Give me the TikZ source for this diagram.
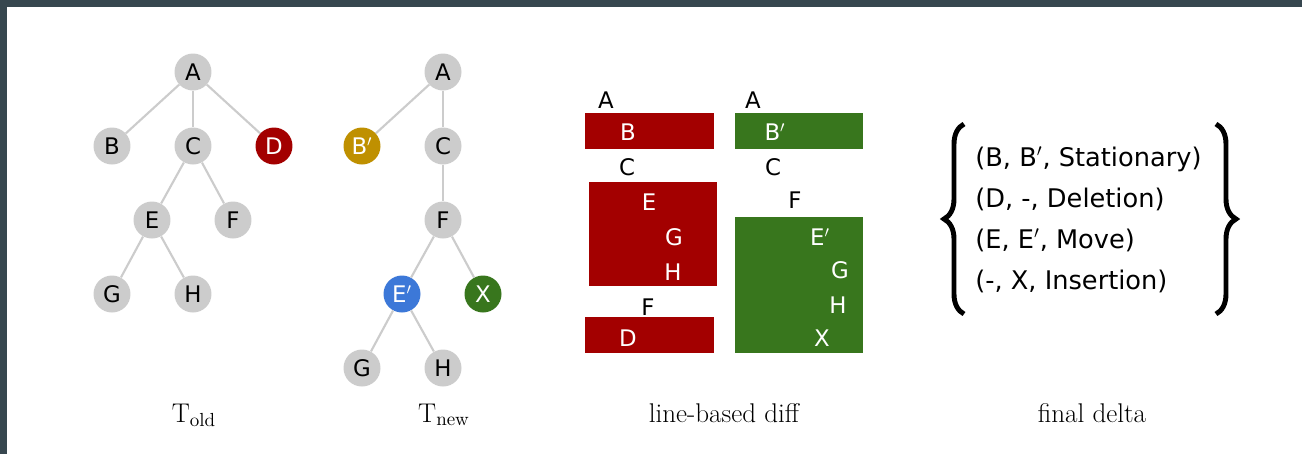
\documentclass[tikz,border=0pt]{standalone}
\usepackage{fontspec}
\newfontfamily\labelfont{DejaVu Sans}
\usepackage{tikz}
\usetikzlibrary{positioning,calc,decorations.pathreplacing}
\definecolor{framegrey}{HTML}{37474F}
\definecolor{nodegrey}{HTML}{CCCCCC}
\definecolor{delred}{HTML}{A30000}
\definecolor{statgold}{HTML}{BF9000}
\definecolor{moveblue}{HTML}{3C78D8}
\definecolor{insgreen}{HTML}{38761D}
\tikzset{
  tnode/.style={circle,fill=nodegrey,minimum size=0.74cm,inner sep=0pt,
    font=\labelfont\fontsize{13}{15}\selectfont},
  cnode/.style={tnode,fill=#1,text=white},
  tedge/.style={draw=nodegrey,line width=1.2pt},
  dlabel/.style={inner sep=0pt,font=\labelfont\fontsize{13}{15}\selectfont},
  dtext/.style={dlabel,text=white},
  tuple/.style={anchor=base west,inner sep=0pt,font=\labelfont\fontsize{14.6}{17}\selectfont},
  caption/.style={anchor=base,inner sep=0pt,font=\fontsize{15.4}{18}\selectfont},
  bigbrace/.style={decorate,decoration={brace,amplitude=0.4cm},line width=2.8pt}
}
\begin{document}
\begin{tikzpicture}[x=0.02cm,y=-0.02cm]
\useasboundingbox (0,0) rectangle (1302,454);
\fill[framegrey] (0,0) rectangle (1302,454);
\fill[white] (7,7) rectangle (1302,454);

% T old
\node[tnode] (oA) at (193,72) {A};
\node[tnode] (oB) at (112,146) {B};
\node[tnode] (oC) at (193,146) {C};
\node[cnode=delred] (oD) at (274,146) {D};
\node[tnode] (oE) at (152,220) {E};
\node[tnode] (oF) at (233,220) {F};
\node[tnode] (oG) at (112,294) {G};
\node[tnode] (oH) at (193,294) {H};
\foreach \a/\b in {oA/oB,oA/oC,oA/oD,oC/oE,oC/oF,oE/oG,oE/oH}
  \draw[tedge] (\a) -- (\b);

% T new
\node[tnode] (nA) at (443,72) {A};
\node[cnode=statgold] (nB) at (362,146) {B$'$};
\node[tnode] (nC) at (443,146) {C};
\node[tnode] (nF) at (443,220) {F};
\node[cnode=moveblue] (nE) at (402,294) {E$'$};
\node[cnode=insgreen] (nX) at (483,294) {X};
\node[tnode] (nG) at (362,368) {G};
\node[tnode] (nH) at (443,368) {H};
\foreach \a/\b in {nA/nB,nA/nC,nC/nF,nF/nE,nF/nX,nE/nG,nE/nH}
  \draw[tedge] (\a) -- (\b);

% line-based diff
\fill[delred] (585,113) rectangle (714,149);
\fill[delred] (589,182) rectangle (717,286);
\fill[delred] (585,317) rectangle (714,353);
\fill[insgreen] (735,113) rectangle (863,149);
\fill[insgreen] (735,217) rectangle (863,353);
\node[dlabel] (lA) at (606,100) {A};
\node[dtext] (lB) at (628,132) {B};
\node[dlabel] (lC) at (627,167) {C};
\node[dtext] (lE) at (649,202) {E};
\node[dtext] (lG) at (674,237) {G};
\node[dtext] (lH) at (673,272) {H};
\node[dlabel] (lF) at (648,307) {F};
\node[dtext] (lD) at (628,338) {D};
\node[dlabel] (rA) at (753,100) {A};
\node[dtext] (rB) at (775,132) {B$'$};
\node[dlabel] (rC) at (773,167) {C};
\node[dlabel] (rF) at (795,200) {F};
\node[dtext] (rE) at (820,237) {E$'$};
\node[dtext] (rG) at (840,270) {G};
\node[dtext] (rH) at (838,305) {H};
\node[dtext] (rX) at (822,338) {X};

% final delta
\node[tuple] (d1) at (975,166) {(B, B$'$, Stationary)};
\node[tuple] (d2) at (975,207) {(D, -, Deletion)};
\node[tuple] (d3) at (975,248) {(E, E$'$, Move)};
\node[tuple] (d4) at (975,289) {(-, X, Insertion)};
\coordinate (lbTop) at (964,124);
\coordinate (lbBot) at (964,314);
\coordinate (rbTop) at (1216,124);
\coordinate (rbBot) at (1216,314);
\draw[bigbrace] (lbBot) -- (lbTop);
\draw[bigbrace] (rbTop) -- (rbBot);

% captions
\node[caption] (cOld) at (194,422) {T$_{\mathrm{old}}$};
\node[caption] (cNew) at (444,422) {T$_{\mathrm{new}}$};
\node[caption] (cDiff) at (724,422) {line-based diff};
\node[caption] (cDelta) at (1092,422) {final delta};
\end{tikzpicture}
\end{document}
